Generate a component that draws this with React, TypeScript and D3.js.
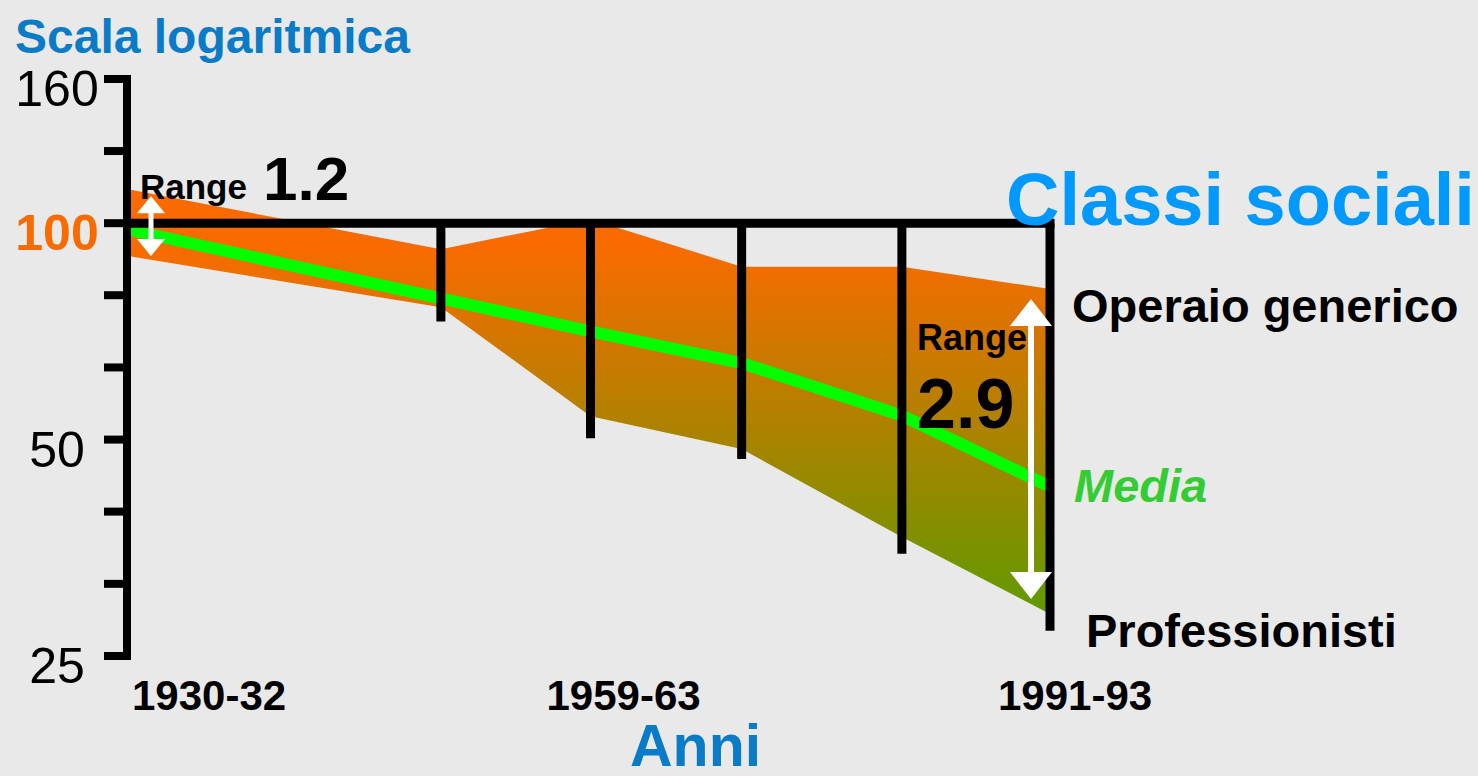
import React from "react";
import * as d3 from "d3";

// ---- data ----
const periods = ["1930-32", "1949-53", "1959-63", "1970-72", "1979-83", "1991-93"];
const periodPos = [1931, 1951.7, 1961.6, 1971.6, 1982.2, 1992];
const operaioTop = [111.5, 92, 101.3, 87, 87, 81];
const professionistiBottom = [90, 76.4, 53.9, 48.5, 36.6, 28.6];
const media = [98, 78.6, 70.7, 63.9, 54, 43];
const barBottom = [100, 73, 50.2, 47, 34.7, 27.1];
const xLabelPeriods = ["1930-32", "1959-63", "1991-93"];
const xLabelDx = [4, -44, -52];
const yTickValues = [25, 31.5, 39.7, 50, 63, 79.4, 100, 126, 158.7];
const yTickLabels = ["25", "", "", "50", "", "", "100", "", "160"];

const W = 1478;
const H = 776;
const FONT = "'Liberation Sans', Arial, Helvetica, sans-serif";

export default function App() {
  const x = d3.scaleLinear().domain([1931, 1992]).range([128, 1050]);
  const y = d3.scaleLog().domain([25, 158.7]).range([656, 79]);

  const rows = periods.map((p, i) => ({
    p,
    pos: periodPos[i],
    top: operaioTop[i],
    bot: professionistiBottom[i],
    m: media[i],
    bb: barBottom[i],
  }));

  const area = d3
    .area<any>()
    .x((d) => x(d.pos))
    .y0((d) => y(d.bot))
    .y1((d) => y(d.top));
  const line = d3
    .line<any>()
    .x((d) => x(d.pos))
    .y((d) => y(d.m));

  const y100 = y(100);
  const axisX = x(1931) - 1;

  const first = rows[0];
  const last = rows[rows.length - 1];
  const a1x = x(first.pos) + 23;
  const a1top = y(first.top) + 7;
  const a1bot = y(first.bot);
  const a2x = x(last.pos) - 19;
  const a2top = y(last.top) + 10;
  const a2bot = y(last.bot) - 15;

  const arrow = (cx: number, t: number, b: number, hw: number, hh: number, sw: number) => (
    <g fill="#ffffff">
      <rect x={cx - sw / 2} y={t + hh - 1} width={sw} height={b - t - 2 * hh + 2} />
      <polygon points={`${cx},${t} ${cx - hw / 2},${t + hh} ${cx + hw / 2},${t + hh}`} />
      <polygon points={`${cx},${b} ${cx - hw / 2},${b - hh} ${cx + hw / 2},${b - hh}`} />
    </g>
  );

  return (
    <svg
      width={W}
      height={H}
      style={{ position: "fixed", left: 0, top: 0, background: "#e9e9e9" }}
      fontFamily={FONT}
    >
      <defs>
        <linearGradient id="band" gradientUnits="userSpaceOnUse" x1="0" x2="0" y1={y(93)} y2={y(28.6)}>
          <stop offset="0" stopColor="#f96b00" />
          <stop offset="1" stopColor="#609a00" />
        </linearGradient>
      </defs>
      <rect x={0} y={0} width={W} height={H} fill="#e9e9e9" />

      {/* band */}
      <path d={area(rows) || ""} fill="url(#band)" />
      {/* media line */}
      <path d={line(rows) || ""} fill="none" stroke="#00ff00" strokeWidth={12} />

      {/* vertical bars */}
      {rows.slice(1).map((r) => (
        <line
          key={r.p}
          x1={x(r.pos)}
          x2={x(r.pos)}
          y1={y100}
          y2={y(r.bb)}
          stroke="#000"
          strokeWidth={9}
        />
      ))}
      {/* 100 line */}
      <line x1={axisX} x2={x(last.pos) + 4.5} y1={y100} y2={y100} stroke="#000" strokeWidth={9} />

      {/* y axis */}
      <line x1={axisX} x2={axisX} y1={y(158.7) - 4} y2={y(25) + 4} stroke="#000" strokeWidth={8} />
      {yTickValues.map((v, i) => (
        <g key={i}>
          <line x1={104} x2={axisX} y1={y(v)} y2={y(v)} stroke="#000" strokeWidth={8} />
          {yTickLabels[i] && (
            <text
              x={57}
              y={y(v) + 27}
              textAnchor="middle"
              fontSize={50}
              fontWeight={yTickLabels[i] === "100" ? "bold" : "normal"}
              fill={yTickLabels[i] === "100" ? "#f96b00" : "#000"}
            >
              {yTickLabels[i]}
            </text>
          )}
        </g>
      ))}

      {/* arrows */}
      {arrow(a1x, a1top, a1bot, 28, 17, 5)}
      {arrow(a2x, a2top, a2bot, 42, 27, 6)}

      {/* x labels */}
      {xLabelPeriods.map((p, i) => {
        const r = rows.find((d) => d.p === p)!;
        return (
          <text key={p} x={x(r.pos) + xLabelDx[i]} y={710} fontSize={42} fontWeight="bold" fill="#000">
            {p}
          </text>
        );
      })}
      <text x={630} y={766} fontSize={59} fontWeight="bold" fill="#0a7bc6">
        Anni
      </text>

      {/* titles and labels */}
      <text x={15} y={53} fontSize={48} fontWeight="bold" fill="#0a7bc6">
        Scala logaritmica
      </text>
      <text x={1006} y={225} fontSize={74} fontWeight="bold" fill="#0099ff">
        Classi sociali
      </text>
      <text x={1072} y={322} fontSize={47} fontWeight="bold" fill="#000">
        Operaio generico
      </text>
      <text x={1074} y={502} fontSize={47} fontWeight="bold" fontStyle="italic" fill="#33cc33">
        Media
      </text>
      <text x={1086} y={647} fontSize={47} fontWeight="bold" fill="#000">
        Professionisti
      </text>

      <text x={140} y={199} fontSize={35} fontWeight="bold" fill="#000">
        Range
      </text>
      <text x={263} y={200} fontSize={62} fontWeight="bold" fill="#000">
        1.2
      </text>
      <text x={917} y={350} fontSize={36} fontWeight="bold" fill="#000">
        Range
      </text>
      <text x={917} y={428} fontSize={70} fontWeight="bold" fill="#000">
        2.9
      </text>
    </svg>
  );
}
